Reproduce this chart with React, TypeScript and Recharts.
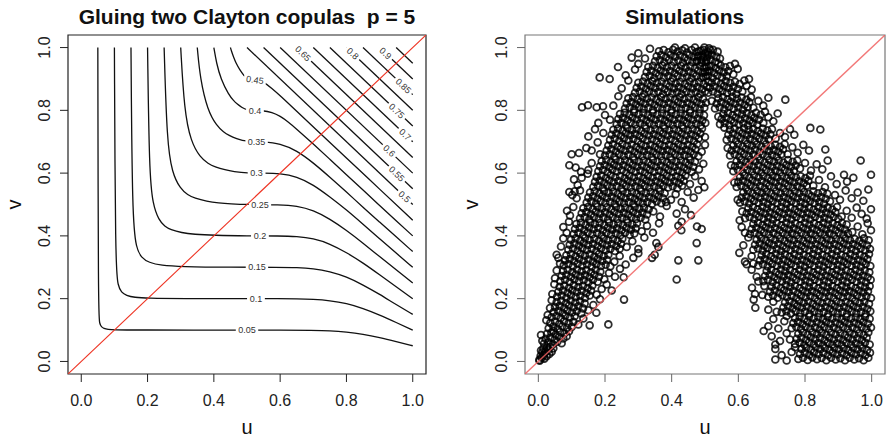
import React from "react";
import { ComposedChart, Line, Scatter, XAxis, YAxis, ReferenceArea } from "recharts";

const FONT = '"Liberation Sans", Arial, Helvetica, sans-serif';
const axisTicks = [0, 0.2, 0.4, 0.6, 0.8, 1.0];
const axisDomain: [number, number] = [-0.04, 1.04];

// level curves C(u, v) = c
const contour05 = [[0.05, 1], [0.0514, 0.15], [0.0554, 0.12], [0.0607, 0.11], [0.068, 0.105], [0.08, 0.102], [0.1, 0.1007], [0.15, 0.1001], [0.5, 0.1], [0.6, 0.1], [0.7, 0.099], [0.75, 0.098], [0.8, 0.094], [0.85, 0.087], [0.9, 0.0765], [0.95, 0.0635], [1, 0.05]];
const contour10 = [[0.1, 1], [0.103, 0.3], [0.111, 0.24], [0.121, 0.22], [0.136, 0.21], [0.16, 0.204], [0.2, 0.2013], [0.3, 0.2002], [0.5, 0.2], [0.6, 0.2], [0.65, 0.1997], [0.7, 0.198], [0.75, 0.194], [0.8, 0.185], [0.85, 0.169], [0.9, 0.148], [0.95, 0.124], [1, 0.1]];
const contour15 = [[0.15, 1], [0.154, 0.45], [0.166, 0.36], [0.182, 0.33], [0.204, 0.315], [0.241, 0.306], [0.3, 0.302], [0.45, 0.3], [0.6, 0.3], [0.65, 0.2993], [0.7, 0.296], [0.75, 0.287], [0.8, 0.27], [0.85, 0.244], [0.9, 0.214], [0.95, 0.181], [1, 0.15]];
const contour20 = [[0.2, 1], [0.2053, 0.6], [0.2159, 0.5], [0.234, 0.45], [0.2522, 0.43], [0.2692, 0.42], [0.3024, 0.41], [0.34, 0.405], [0.4, 0.4017], [0.5, 0.4], [0.6, 0.4], [0.65, 0.398], [0.7, 0.392], [0.75, 0.375], [0.8, 0.347], [0.85, 0.314], [0.9, 0.276], [0.95, 0.238], [1, 0.2]];
const contour25 = [[0.25, 1], [0.2585, 0.7], [0.2742, 0.6], [0.2988, 0.55], [0.3215, 0.53], [0.3418, 0.52], [0.3786, 0.51], [0.4146, 0.505], [0.45, 0.5022], [0.5, 0.5], [0.6, 0.4996], [0.65, 0.4957], [0.7, 0.482], [0.75, 0.454], [0.8, 0.418], [0.85, 0.377], [0.9, 0.334], [0.95, 0.292], [1, 0.25]];
const contour30 = [[0.3, 1], [0.3107, 0.8], [0.3306, 0.7], [0.359, 0.65], [0.3832, 0.63], [0.4029, 0.62], [0.4344, 0.61], [0.4597, 0.605], [0.5, 0.6], [0.55, 0.5998], [0.6, 0.5988], [0.65, 0.589], [0.7, 0.563], [0.75, 0.524], [0.8, 0.483], [0.85, 0.437], [0.9, 0.391], [0.95, 0.345], [1, 0.3]];
const contour35 = [[0.35, 1], [0.3588, 0.9], [0.381, 0.8], [0.4089, 0.75], [0.43, 0.73], [0.4455, 0.72], [0.467, 0.71], [0.5, 0.7], [0.55, 0.6995], [0.6, 0.695], [0.65, 0.672], [0.7, 0.633], [0.75, 0.587], [0.8, 0.54], [0.85, 0.491], [0.9, 0.444], [0.95, 0.397], [1, 0.35]];
const contour40 = [[0.4, 1], [0.408, 0.95], [0.421, 0.9], [0.4446, 0.85], [0.4602, 0.83], [0.4705, 0.82], [0.4834, 0.81], [0.5, 0.8], [0.55, 0.7994], [0.575, 0.794], [0.6, 0.782], [0.625, 0.763], [0.65, 0.74], [0.7, 0.693], [0.75, 0.644], [0.8, 0.595], [0.85, 0.546], [0.9, 0.497], [0.95, 0.448], [1, 0.4]];
const contour45 = [[0.45, 1], [0.4528, 0.99], [0.4593, 0.97], [0.467, 0.95], [0.4778, 0.93], [0.4914, 0.91], [0.5, 0.9], [0.525, 0.8997], [0.55, 0.891], [0.575, 0.87], [0.6, 0.847], [0.65, 0.797], [0.7, 0.747], [0.8, 0.648], [0.9, 0.549], [1, 0.45]];
const contour50 = [[0.5, 1], [1, 0.5]];
const contour55 = [[0.55, 1], [1, 0.55]];
const contour60 = [[0.6, 1], [1, 0.6]];
const contour65 = [[0.65, 1], [1, 0.65]];
const contour70 = [[0.7, 1], [1, 0.7]];
const contour75 = [[0.75, 1], [1, 0.75]];
const contour80 = [[0.8, 1], [1, 0.8]];
const contour85 = [[0.85, 1], [1, 0.85]];
const contour90 = [[0.9, 1], [1, 0.9]];
const contour95 = [[0.95, 1], [1, 0.95]];
const contours = [contour05, contour10, contour15, contour20, contour25, contour30, contour35, contour40, contour45, contour50, contour55, contour60, contour65, contour70, contour75, contour80, contour85, contour90, contour95];

// contour labels and where they sit (data units)
const labelText = ["0.05", "0.1", "0.15", "0.2", "0.25", "0.3", "0.35", "0.4", "0.45", "0.5", "0.55", "0.6", "0.65", "0.7", "0.75", "0.8", "0.85", "0.9"];
const labelU = [0.5, 0.527, 0.53, 0.539, 0.539, 0.529, 0.529, 0.524, 0.524, 0.975, 0.952, 0.929, 0.669, 0.977, 0.952, 0.819, 0.972, 0.918];
const labelV = [0.101, 0.2, 0.3, 0.4, 0.5, 0.6, 0.7, 0.8, 0.897, 0.525, 0.598, 0.671, 0.981, 0.723, 0.798, 0.981, 0.878, 0.982];

const diagonal = [{ u: -0.04, v: -0.04 }, { u: 1.04, v: 1.04 }];

// simulated pairs (u, v) in thousandths, read region by region off the right panel
const leftArmLow = [
  3,5, 10,12, 18,9, 7,18, 16,20, 25,17, 33,24, 12,29, 21,32, 30,36, 40,31, 15,41, 26,45, 36,47, 45,42, 4,2, 20,27, 8,35,
  17,57, 30,61, 44,55, 57,63, 70,58, 22,72, 36,76, 49,70, 62,78, 75,73, 26,88, 39,92, 52,86, 65,94, 78,89, 12,66, 45,98, 85,80, 92,96, 8,84,
  31,106, 45,111, 58,104, 72,112, 86,107, 100,110, 36,123, 50,127, 63,120, 77,128, 91,122, 105,126, 40,141, 54,145, 67,138, 81,146, 95,140, 109,144, 24,131, 120,118, 135,137, 28,148,
  46,157, 60,161, 73,154, 87,162, 101,156, 115,160, 129,153, 50,173, 64,177, 78,170, 92,178, 106,172, 120,176, 134,169, 55,189, 69,193, 83,186, 97,194, 111,188, 125,192, 139,185, 35,170, 150,163, 165,180, 40,195, 185,198,
  56,206, 70,210, 84,203, 98,211, 112,205, 126,209, 140,202, 154,210, 60,222, 74,226, 88,219, 102,227, 116,221, 130,225, 144,218, 158,226, 64,238, 78,242, 92,235, 106,243, 120,237, 134,241, 148,234, 162,242, 42,215, 48,246, 175,213, 190,231, 205,245, 220,226,
  66,256, 80,260, 94,253, 108,261, 122,255, 136,259, 150,252, 164,260, 178,254, 70,272, 84,276, 98,269, 112,277, 126,271, 140,275, 154,268, 168,276, 182,270, 74,288, 88,292, 102,285, 116,293, 130,287, 144,291, 158,284, 172,292, 186,286, 50,265, 55,290, 198,262, 212,282, 230,270, 256,268, 245,295,
  76,306, 90,310, 104,303, 118,311, 132,305, 146,309, 160,302, 174,310, 188,304, 202,308, 216,303, 80,322, 94,326, 108,319, 122,327, 136,321, 150,325, 164,318, 178,326, 192,320, 206,324, 84,338, 98,342, 112,335, 126,343, 140,337, 154,341, 168,334, 182,342, 196,336, 210,340, 60,330, 55,340, 65,312, 228,318, 244,336, 262,309, 285,330, 300,345,
  90,356, 104,360, 118,353, 132,361, 146,355, 160,359, 174,352, 188,360, 202,354, 216,358, 230,352, 244,359, 94,372, 108,376, 122,369, 136,377, 150,371, 164,375, 178,368, 192,376, 206,370, 220,374, 234,368, 248,375, 98,388, 112,392, 126,385, 140,393, 154,387, 168,391, 182,384, 196,392, 210,386, 224,390, 238,384, 252,391, 68,366, 75,392, 265,365, 282,383, 300,358, 318,395,
  106,406, 120,410, 134,403, 148,411, 162,405, 176,409, 190,402, 204,410, 218,404, 232,408, 246,402, 260,410, 274,404, 288,408, 110,422, 124,426, 138,419, 152,427, 166,421, 180,425, 194,418, 208,426, 222,420, 236,424, 250,418, 264,426, 278,420, 292,424, 114,438, 128,442, 142,435, 156,443, 170,437, 184,441, 198,434, 212,442, 226,436, 240,440, 254,434, 268,442, 282,436, 296,440, 75,428, 85,410, 92,445, 310,415, 326,432, 344,410, 362,440,
  125,456, 139,460, 153,453, 167,461, 181,455, 195,459, 209,452, 223,460, 237,454, 251,458, 265,452, 279,460, 293,454, 307,458, 321,452, 130,472, 144,476, 158,469, 172,477, 186,471, 200,475, 214,468, 228,476, 242,470, 256,474, 270,468, 284,476, 298,470, 312,474, 326,468, 135,488, 149,492, 163,485, 177,493, 191,487, 205,491, 219,484, 233,492, 247,486, 261,490, 275,484, 289,492, 303,486, 317,490, 331,484, 95,465, 105,492, 86,480, 345,478, 365,462, 385,495, 440,485, 458,466,
];

const leftArmStray = [
  154,115, 210,118, 174,155, 257,197, 415,261, 420,322, 480,322, 349,340, 341,330, 354,377, 360,365, 475,377, 429,418, 420,432, 490,422, 476,430, 430,445, 415,471,
  100,660, 93,625, 93,540, 107,580, 144,680, 131,810, 175,810, 239,938, 184,905, 214,900, 149,816, 194,813, 122,664, 128,604, 109,542,
];

const leftArmHigh = [
  145,506, 159,510, 173,503, 187,511, 201,505, 215,509, 229,502, 243,510, 257,504, 271,508, 285,502, 299,510, 313,504, 327,508, 341,502, 355,510, 369,504, 383,508, 150,522, 164,526, 178,519, 192,527, 206,521, 220,525, 234,518, 248,526, 262,520, 276,524, 290,518, 304,526, 318,520, 332,524, 346,518, 360,526, 374,520, 155,538, 169,542, 183,535, 197,543, 211,537, 225,541, 239,534, 253,542, 267,536, 281,540, 295,534, 309,542, 323,536, 337,540, 351,534, 365,542, 379,536, 115,520, 125,545, 102,530, 398,515, 412,533, 430,508, 448,540, 466,522, 480,546,
  165,556, 179,560, 193,553, 207,561, 221,555, 235,559, 249,552, 263,560, 277,554, 291,558, 305,552, 319,560, 333,554, 347,558, 361,552, 375,560, 389,554, 403,558, 417,552, 431,560, 170,572, 184,576, 198,569, 212,577, 226,571, 240,575, 254,568, 268,576, 282,570, 296,574, 310,568, 324,576, 338,570, 352,574, 366,568, 380,576, 394,570, 408,574, 422,568, 436,576, 175,588, 189,592, 203,585, 217,593, 231,587, 245,591, 259,584, 273,592, 287,586, 301,590, 315,584, 329,592, 343,586, 357,590, 371,584, 385,592, 399,586, 413,590, 427,584, 441,592, 118,562, 130,585, 148,598, 455,565, 470,590, 490,575, 498,555,
  180,606, 194,610, 208,603, 222,611, 236,605, 250,609, 264,602, 278,610, 292,604, 306,608, 320,602, 334,610, 348,604, 362,608, 376,602, 390,610, 404,604, 418,608, 432,602, 446,610, 460,604, 185,622, 199,626, 213,619, 227,627, 241,621, 255,625, 269,618, 283,626, 297,620, 311,624, 325,618, 339,626, 353,620, 367,624, 381,618, 395,626, 409,620, 423,624, 437,618, 451,626, 465,620, 190,638, 204,642, 218,635, 232,643, 246,637, 260,641, 274,634, 288,642, 302,636, 316,640, 330,634, 344,642, 358,636, 372,640, 386,634, 400,642, 414,636, 428,640, 442,634, 456,642, 470,636, 112,618, 150,610, 160,632, 482,612, 495,630,
  200,656, 214,660, 228,653, 242,661, 256,655, 270,659, 284,652, 298,660, 312,654, 326,658, 340,652, 354,660, 368,654, 382,658, 396,652, 410,660, 424,654, 438,658, 452,652, 466,660, 480,654, 205,672, 219,676, 233,669, 247,677, 261,671, 275,675, 289,668, 303,676, 317,670, 331,674, 345,668, 359,676, 373,670, 387,674, 401,668, 415,676, 429,670, 443,674, 457,668, 471,676, 210,688, 224,692, 238,685, 252,693, 266,687, 280,691, 294,684, 308,692, 322,686, 336,690, 350,684, 364,692, 378,686, 392,690, 406,684, 420,692, 434,686, 448,690, 462,684, 476,692, 160,672, 178,698, 490,668, 500,690, 185,660,
  215,706, 229,710, 243,703, 257,711, 271,705, 285,709, 299,702, 313,710, 327,704, 341,708, 355,702, 369,710, 383,704, 397,708, 411,702, 425,710, 439,704, 453,708, 467,702, 481,710, 220,722, 234,726, 248,719, 262,727, 276,721, 290,725, 304,718, 318,726, 332,720, 346,724, 360,718, 374,726, 388,720, 402,724, 416,718, 430,726, 444,720, 458,724, 472,718, 486,726, 225,738, 239,742, 253,735, 267,743, 281,737, 295,741, 309,734, 323,742, 337,736, 351,740, 365,734, 379,742, 393,736, 407,740, 421,734, 435,742, 449,736, 463,740, 477,734, 491,742, 150,717, 170,740, 195,728, 500,715,
  235,756, 249,760, 263,753, 277,761, 291,755, 305,759, 319,752, 333,760, 347,754, 361,758, 375,752, 389,760, 403,754, 417,758, 431,752, 445,760, 459,754, 473,758, 487,752, 501,760, 240,772, 254,776, 268,769, 282,777, 296,771, 310,775, 324,768, 338,776, 352,770, 366,774, 380,768, 394,776, 408,770, 422,774, 436,768, 450,776, 464,770, 478,774, 492,768, 245,788, 259,792, 273,785, 287,793, 301,787, 315,791, 329,784, 343,792, 357,786, 371,790, 385,784, 399,792, 413,786, 427,790, 441,784, 455,792, 469,786, 483,790, 497,784, 180,760, 200,785, 215,770,
  260,806, 274,810, 288,803, 302,811, 316,805, 330,809, 344,802, 358,810, 372,804, 386,808, 400,802, 414,810, 428,804, 442,808, 456,802, 470,810, 484,804, 498,808, 265,822, 279,826, 293,819, 307,827, 321,821, 335,825, 349,818, 363,826, 377,820, 391,824, 405,818, 419,826, 433,820, 447,824, 461,818, 475,826, 489,820, 503,824, 270,838, 284,842, 298,835, 312,843, 326,837, 340,841, 354,834, 368,842, 382,836, 396,840, 410,834, 424,842, 438,836, 452,840, 466,834, 480,842, 494,836, 225,815, 240,845,
  290,856, 304,860, 318,853, 332,861, 346,855, 360,859, 374,852, 388,860, 402,854, 416,858, 430,852, 444,860, 458,854, 472,858, 486,852, 500,860, 295,872, 309,876, 323,869, 337,877, 351,871, 365,875, 379,868, 393,876, 407,870, 421,874, 435,868, 449,876, 463,870, 477,874, 491,868, 505,876, 300,888, 314,892, 328,885, 342,893, 356,887, 370,891, 384,884, 398,892, 412,886, 426,890, 440,884, 454,892, 468,886, 482,890, 496,884, 510,892, 250,870, 270,895,
  320,906, 334,910, 348,903, 362,911, 376,905, 390,909, 404,902, 418,910, 432,904, 446,908, 460,902, 474,910, 488,904, 502,908, 325,922, 339,926, 353,919, 367,927, 381,921, 395,925, 409,918, 423,926, 437,920, 451,924, 465,918, 479,926, 493,920, 507,924, 330,938, 344,942, 358,935, 372,943, 386,937, 400,941, 414,934, 428,942, 442,936, 456,940, 470,934, 484,942, 498,936, 512,940, 262,912, 290,930, 300,948,
  350,956, 364,960, 378,953, 392,961, 406,955, 420,959, 434,952, 448,960, 462,954, 476,958, 490,952, 504,960, 355,972, 369,976, 383,969, 397,977, 411,971, 425,975, 439,968, 453,976, 467,970, 481,974, 495,968, 509,976, 362,988, 376,992, 390,985, 404,993, 418,987, 432,991, 446,984, 460,992, 474,986, 488,990, 502,984, 516,992, 280,968, 300,982, 320,965, 335,996, 410,1000, 440,998, 470,1000,
];

const rightArmHigh = [
  475,956, 489,960, 503,953, 517,961, 531,955, 478,972, 492,976, 506,969, 520,977, 534,971, 482,988, 496,992, 510,985, 524,993, 538,987, 545,965, 540,950, 498,1000, 512,998,
  495,906, 509,910, 523,903, 537,911, 551,905, 565,909, 500,922, 514,926, 528,919, 542,927, 556,921, 570,925, 505,938, 519,942, 533,935, 547,943, 561,937, 575,941, 585,915, 598,932, 590,948,
  510,856, 524,860, 538,853, 552,861, 566,855, 580,859, 594,852, 515,872, 529,876, 543,869, 557,877, 571,871, 585,875, 599,868, 520,888, 534,892, 548,885, 562,893, 576,887, 590,891, 604,884, 612,860, 625,878, 640,866, 632,900, 618,895,
  530,806, 544,810, 558,803, 572,811, 586,805, 600,809, 614,802, 628,810, 535,822, 549,826, 563,819, 577,827, 591,821, 605,825, 619,818, 633,826, 540,838, 554,842, 568,835, 582,843, 596,837, 610,841, 624,834, 638,842, 645,808, 660,830, 675,815, 690,840, 741,834, 520,830,
  545,756, 559,760, 573,753, 587,761, 601,755, 615,759, 629,752, 643,760, 657,754, 550,772, 564,776, 578,769, 592,777, 606,771, 620,775, 634,768, 648,776, 662,770, 555,788, 569,792, 583,785, 597,793, 611,787, 625,791, 639,784, 653,792, 667,786, 675,760, 690,778, 705,765, 718,790, 680,795, 540,780,
  565,706, 579,710, 593,703, 607,711, 621,705, 635,709, 649,702, 663,710, 677,704, 691,708, 570,722, 584,726, 598,719, 612,727, 626,721, 640,725, 654,718, 668,726, 682,720, 696,724, 575,738, 589,742, 603,735, 617,743, 631,737, 645,741, 659,734, 673,742, 687,736, 701,740, 712,710, 725,728, 740,715, 755,740, 768,722, 816,744, 846,739, 558,745,
  575,656, 589,660, 603,653, 617,661, 631,655, 645,659, 659,652, 673,660, 687,654, 701,658, 715,652, 729,660, 580,672, 594,676, 608,669, 622,677, 636,671, 650,675, 664,668, 678,676, 692,670, 706,674, 720,668, 734,676, 585,688, 599,692, 613,685, 627,693, 641,687, 655,691, 669,684, 683,692, 697,686, 711,690, 725,684, 739,692, 748,660, 762,682, 778,665, 795,690, 812,672, 861,675, 568,680,
  585,606, 599,610, 613,603, 627,611, 641,605, 655,609, 669,602, 683,610, 697,604, 711,608, 725,602, 739,610, 753,604, 767,608, 590,622, 604,626, 618,619, 632,627, 646,621, 660,625, 674,618, 688,626, 702,620, 716,624, 730,618, 744,626, 758,620, 772,624, 595,638, 609,642, 623,635, 637,643, 651,637, 665,641, 679,634, 693,642, 707,636, 721,640, 735,634, 749,642, 763,636, 777,640, 785,615, 800,632, 818,608, 835,628, 852,612, 868,640, 967,640, 578,625,
  595,556, 609,560, 623,553, 637,561, 651,555, 665,559, 679,552, 693,560, 707,554, 721,558, 735,552, 749,560, 763,554, 777,558, 791,552, 805,560, 600,572, 614,576, 628,569, 642,577, 656,571, 670,575, 684,568, 698,576, 712,570, 726,574, 740,568, 754,576, 768,570, 782,574, 796,568, 810,576, 605,588, 619,592, 633,585, 647,593, 661,587, 675,591, 689,584, 703,592, 717,586, 731,590, 745,584, 759,592, 773,586, 787,590, 801,584, 815,592, 825,560, 842,578, 860,555, 878,590, 895,565, 917,595, 926,573, 945,585, 998,595, 588,570,
  605,506, 619,510, 633,503, 647,511, 661,505, 675,509, 689,502, 703,510, 717,504, 731,508, 745,502, 759,510, 773,504, 787,508, 801,502, 815,510, 829,504, 843,508, 857,502, 610,522, 624,526, 638,519, 652,527, 666,521, 680,525, 694,518, 708,526, 722,520, 736,524, 750,518, 764,526, 778,520, 792,524, 806,518, 820,526, 834,520, 848,524, 862,518, 615,538, 629,542, 643,535, 657,543, 671,537, 685,541, 699,534, 713,542, 727,536, 741,540, 755,534, 769,542, 783,536, 797,540, 811,534, 825,542, 839,536, 853,540, 867,534, 875,510, 890,530, 905,515, 922,545, 940,520, 958,538, 975,512, 990,548, 598,515,
];

const rightArmLow = [
  620,456, 634,460, 648,453, 662,461, 676,455, 690,459, 704,452, 718,460, 732,454, 746,458, 760,452, 774,460, 788,454, 802,458, 816,452, 830,460, 844,454, 858,458, 872,452, 886,460, 900,454, 625,472, 639,476, 653,469, 667,477, 681,471, 695,475, 709,468, 723,476, 737,470, 751,474, 765,468, 779,476, 793,470, 807,474, 821,468, 835,476, 849,470, 863,474, 877,468, 891,476, 630,488, 644,492, 658,485, 672,493, 686,487, 700,491, 714,484, 728,492, 742,486, 756,490, 770,484, 784,492, 798,486, 812,490, 826,484, 840,492, 854,486, 868,490, 882,484, 896,492, 910,462, 925,480, 940,458, 955,490, 970,470, 985,455, 998,485, 604,450, 612,478,
  635,406, 649,410, 663,403, 677,411, 691,405, 705,409, 719,402, 733,410, 747,404, 761,408, 775,402, 789,410, 803,404, 817,408, 831,402, 845,410, 859,404, 873,408, 887,402, 901,410, 915,404, 929,408, 640,422, 654,426, 668,419, 682,427, 696,421, 710,425, 724,418, 738,426, 752,420, 766,424, 780,418, 794,426, 808,420, 822,424, 836,418, 850,426, 864,420, 878,424, 892,418, 906,426, 920,420, 645,438, 659,442, 673,435, 687,443, 701,437, 715,441, 729,434, 743,442, 757,436, 771,440, 785,434, 799,442, 813,436, 827,440, 841,434, 855,442, 869,436, 883,440, 897,434, 911,442, 925,436, 942,412, 958,430, 972,405, 988,440, 998,418, 610,428, 620,410,
  645,356, 659,360, 673,353, 687,361, 701,355, 715,359, 729,352, 743,360, 757,354, 771,358, 785,352, 799,360, 813,354, 827,358, 841,352, 855,360, 869,354, 883,358, 897,352, 911,360, 925,354, 939,358, 953,352, 967,360, 981,354, 995,358, 650,372, 664,376, 678,369, 692,377, 706,371, 720,375, 734,368, 748,376, 762,370, 776,374, 790,368, 804,376, 818,370, 832,374, 846,368, 860,376, 874,370, 888,374, 902,368, 916,376, 930,370, 944,374, 958,368, 972,376, 986,370, 655,388, 669,392, 683,385, 697,393, 711,387, 725,391, 739,384, 753,392, 767,386, 781,390, 795,384, 809,392, 823,386, 837,390, 851,384, 865,392, 879,386, 893,390, 907,384, 921,392, 935,386, 949,390, 963,384, 977,392, 991,386, 615,370, 630,395, 603,346,
  660,306, 674,310, 688,303, 702,311, 716,305, 730,309, 744,302, 758,310, 772,304, 786,308, 800,302, 814,310, 828,304, 842,308, 856,302, 870,310, 884,304, 898,308, 912,302, 926,310, 940,304, 954,308, 968,302, 982,310, 996,304, 665,322, 679,326, 693,319, 707,327, 721,321, 735,325, 749,318, 763,326, 777,320, 791,324, 805,318, 819,326, 833,320, 847,324, 861,318, 875,326, 889,320, 903,324, 917,318, 931,326, 945,320, 959,324, 973,318, 987,326, 670,338, 684,342, 698,335, 712,343, 726,337, 740,341, 754,334, 768,342, 782,336, 796,340, 810,334, 824,342, 838,336, 852,340, 866,334, 880,342, 894,336, 908,340, 922,334, 936,342, 950,336, 964,340, 978,334, 992,342, 620,318, 640,335, 625,310, 645,312,
  675,256, 689,260, 703,253, 717,261, 731,255, 745,259, 759,252, 773,260, 787,254, 801,258, 815,252, 829,260, 843,254, 857,258, 871,252, 885,260, 899,254, 913,258, 927,252, 941,260, 955,254, 969,258, 983,252, 997,260, 680,272, 694,276, 708,269, 722,277, 736,271, 750,275, 764,268, 778,276, 792,270, 806,274, 820,268, 834,276, 848,270, 862,274, 876,268, 890,276, 904,270, 918,274, 932,268, 946,276, 960,270, 974,274, 988,268, 685,288, 699,292, 713,285, 727,293, 741,287, 755,291, 769,284, 783,292, 797,286, 811,290, 825,284, 839,292, 853,286, 867,290, 881,284, 895,292, 909,286, 923,290, 937,284, 951,292, 965,286, 979,290, 993,284, 655,270, 640,292, 660,255,
  690,206, 704,210, 718,203, 732,211, 746,205, 760,209, 774,202, 788,210, 802,204, 816,208, 830,202, 844,210, 858,204, 872,208, 886,202, 900,210, 914,204, 928,208, 942,202, 956,210, 970,204, 984,208, 998,202, 695,222, 709,226, 723,219, 737,227, 751,221, 765,225, 779,218, 793,226, 807,220, 821,224, 835,218, 849,226, 863,220, 877,224, 891,218, 905,226, 919,220, 933,224, 947,218, 961,226, 975,220, 989,224, 700,238, 714,242, 728,235, 742,243, 756,237, 770,241, 784,234, 798,242, 812,236, 826,240, 840,234, 854,242, 868,236, 882,240, 896,234, 910,242, 924,236, 938,240, 952,234, 966,242, 980,236, 994,240, 641,235, 650,215, 672,212, 678,240,
  730,156, 744,160, 758,153, 772,161, 786,155, 800,159, 814,152, 828,160, 842,154, 856,158, 870,152, 884,160, 898,154, 912,158, 926,152, 940,160, 954,154, 968,158, 982,152, 996,160, 735,172, 749,176, 763,169, 777,177, 791,171, 805,175, 819,168, 833,176, 847,170, 861,174, 875,168, 889,176, 903,170, 917,174, 931,168, 945,176, 959,170, 973,174, 987,168, 740,188, 754,192, 768,185, 782,193, 796,187, 810,191, 824,184, 838,192, 852,186, 866,190, 880,184, 894,192, 908,186, 922,190, 936,184, 950,192, 964,186, 978,190, 992,184, 646,197, 651,171, 690,165, 705,190, 715,158,
  760,106, 774,110, 788,103, 802,111, 816,105, 830,109, 844,102, 858,110, 872,104, 886,108, 900,102, 914,110, 928,104, 942,108, 956,102, 970,110, 984,104, 998,108, 765,122, 779,126, 793,119, 807,127, 821,121, 835,125, 849,118, 863,126, 877,120, 891,124, 905,118, 919,126, 933,120, 947,124, 961,118, 975,126, 989,120, 770,138, 784,142, 798,135, 812,143, 826,137, 840,141, 854,134, 868,142, 882,136, 896,140, 910,134, 924,142, 938,136, 952,140, 966,134, 980,142, 994,136, 690,112, 705,135, 720,105, 738,128, 745,145,
  770,56, 784,60, 798,53, 812,61, 826,55, 840,59, 854,52, 868,60, 882,54, 896,58, 910,52, 924,60, 938,54, 952,58, 966,52, 980,60, 994,54, 775,72, 789,76, 803,69, 817,77, 831,71, 845,75, 859,68, 873,76, 887,70, 901,74, 915,68, 929,76, 943,70, 957,74, 971,68, 985,76, 780,88, 794,92, 808,85, 822,93, 836,87, 850,91, 864,84, 878,92, 892,86, 906,90, 920,84, 934,92, 948,86, 962,90, 976,84, 990,92, 676,97, 711,54, 700,80, 725,65, 745,90, 755,70,
  780,8, 794,12, 808,5, 822,13, 836,7, 850,11, 864,4, 878,12, 892,6, 906,10, 920,4, 934,12, 948,6, 962,10, 976,4, 990,12, 785,24, 799,28, 813,21, 827,29, 841,23, 855,27, 869,20, 883,28, 897,22, 911,26, 925,20, 939,28, 953,22, 967,26, 981,20, 995,28, 790,40, 804,44, 818,37, 832,45, 846,39, 860,43, 874,36, 888,44, 902,38, 916,42, 930,36, 944,44, 958,38, 972,42, 986,36, 711,6, 711,40, 730,20, 745,3, 760,30, 770,45,
];

const toPoints = (flat: number[]) => {
  const out: { u: number; v: number }[] = [];
  for (let i = 0; i + 1 < flat.length; i += 2) out.push({ u: flat[i] / 1000, v: flat[i + 1] / 1000 });
  return out;
};

const simulated = toPoints([...leftArmLow, ...leftArmStray, ...leftArmHigh, ...rightArmHigh, ...rightArmLow]);
const labelData = labelText.map((t, i) => ({ u: labelU[i], v: labelV[i], text: t }));

const Ring = (p: any) => (
  <circle cx={p.cx} cy={p.cy} r={3.4} fill="none" stroke="#000" strokeOpacity={0.82} strokeWidth={1.8} />
);

const ContourLabel = (p: any) => {
  const text: string = p.payload.text;
  const level = parseFloat(text);
  const angle = level >= 0.5 ? 43.5 : level > 0.42 ? 8 : 0;
  const w = text.length * 4.6 + 4;
  return (
    <g transform={`translate(${p.cx},${p.cy}) rotate(${angle})`}>
      <rect x={-w / 2} y={-5} width={w} height={10} fill="#fff" />
      <text x={0} y={3.2} textAnchor="middle" fontSize={9} fontFamily={FONT} fill="#333">{text}</text>
    </g>
  );
};

const makeYTick = (color: string) => (p: any) => (
  <text x={p.x} y={p.y} transform={`rotate(-90 ${p.x} ${p.y})`} textAnchor="middle" fontSize={16} fontFamily={FONT} fill={color}>
    {Number(p.payload.value).toFixed(1)}
  </text>
);

const xTitle = (p: any) => {
  const vb = p.viewBox;
  return (
    <text x={vb.x + vb.width / 2} y={vb.y + vb.height - 4} textAnchor="middle" fontSize={20} fontFamily={FONT} fill="#111">u</text>
  );
};

const yTitle = (p: any) => {
  const vb = p.viewBox;
  const x = vb.x + vb.width - 47;
  const y = vb.y + vb.height / 2;
  return (
    <text x={x} y={y} transform={`rotate(-90 ${x} ${y})`} textAnchor="middle" fontSize={20} fontFamily={FONT} fill="#111">v</text>
  );
};

function ContourPanel() {
  return (
    <ComposedChart width={444} height={438} margin={{ top: 35, right: 18, bottom: 0, left: 0 }}>
      <XAxis type="number" dataKey="u" domain={axisDomain} ticks={axisTicks} allowDataOverflow interval={0}
        tickFormatter={(t: number) => t.toFixed(1)} tickSize={8} tickMargin={13} axisLine={false}
        tickLine={{ stroke: "#222" }} tick={{ fontSize: 16, fill: "#222", fontFamily: FONT }} height={64} label={xTitle} />
      <YAxis type="number" dataKey="v" domain={axisDomain} ticks={axisTicks} allowDataOverflow interval={0}
        tickSize={8} tickMargin={10} axisLine={false} tickLine={{ stroke: "#222" }} tick={makeYTick("#222")} width={68} label={yTitle} />
      <ReferenceArea x1={-0.04} x2={1.04} y1={-0.04} y2={1.04} fill="none" stroke="#222" strokeWidth={1.2} ifOverflow="visible" />
      {contours.map((c, i) => (
        <Line key={i} data={c.map(([u, v]) => ({ u, v }))} dataKey="v" type="basis" stroke="#111" strokeWidth={1.3}
          dot={false} activeDot={false} isAnimationActive={false} />
      ))}
      <Scatter data={labelData} shape={ContourLabel} isAnimationActive={false} />
      <Scatter data={diagonal} line={{ stroke: "#ee3322", strokeWidth: 1.1 }} shape={() => <g />} isAnimationActive={false} />
    </ComposedChart>
  );
}

function SimulationPanel() {
  return (
    <ComposedChart width={444} height={438} margin={{ top: 35, right: 3, bottom: 0, left: 0 }}>
      <XAxis type="number" dataKey="u" domain={axisDomain} ticks={axisTicks} allowDataOverflow interval={0}
        tickFormatter={(t: number) => t.toFixed(1)} tickSize={8} tickMargin={13} axisLine={false}
        tickLine={{ stroke: "#666" }} tick={{ fontSize: 16, fill: "#222", fontFamily: FONT }} height={64} label={xTitle} />
      <YAxis type="number" dataKey="v" domain={axisDomain} ticks={axisTicks} allowDataOverflow interval={0}
        tickSize={8} tickMargin={10} axisLine={false} tickLine={{ stroke: "#666" }} tick={makeYTick("#222")} width={81} label={yTitle} />
      <ReferenceArea x1={-0.04} x2={1.04} y1={-0.04} y2={1.04} fill="none" stroke="#777" strokeWidth={1.2} ifOverflow="visible" />
      <Scatter data={simulated} shape={Ring} isAnimationActive={false} />
      <Scatter data={diagonal} line={{ stroke: "#f06060", strokeWidth: 1.4, strokeOpacity: 0.85 }} shape={() => <g />} isAnimationActive={false} />
    </ComposedChart>
  );
}

export default function App() {
  return (
    <div style={{ position: "absolute", left: 0, top: 0, width: 888, height: 438, background: "#fff", overflow: "hidden" }}>
      <div style={{ position: "absolute", left: 0, top: 0 }}>
        <ContourPanel />
      </div>
      <div style={{ position: "absolute", left: 444, top: 0 }}>
        <SimulationPanel />
      </div>
      <svg width={888} height={438} style={{ position: "absolute", left: 0, top: 0, pointerEvents: "none" }}>
        <text x={247} y={23.5} textAnchor="middle" fontWeight="bold" fontSize={21} fontFamily={FONT} fill="#111" style={{ whiteSpace: "pre" }}>
          Gluing two Clayton copulas  p = 5
        </text>
        <text x={684.7} y={23.5} textAnchor="middle" fontWeight="bold" fontSize={21} fontFamily={FONT} fill="#111">
          Simulations
        </text>
      </svg>
    </div>
  );
}
